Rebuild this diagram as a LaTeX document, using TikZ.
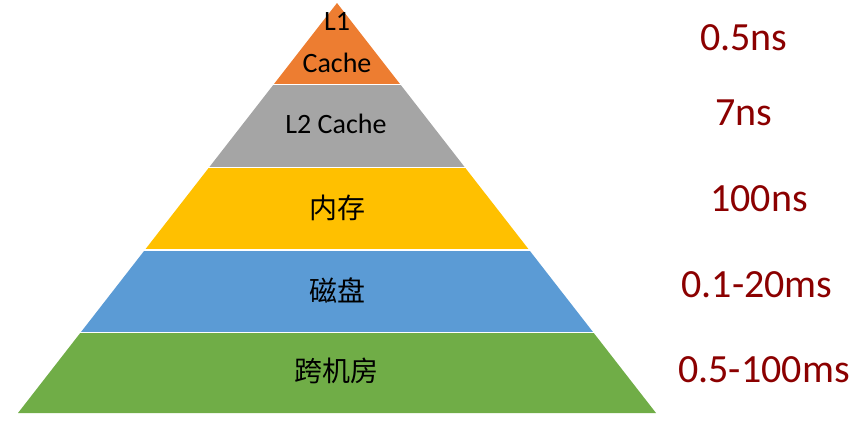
\documentclass[tikz,border=0pt]{standalone}
\usepackage{fontspec}
\setmainfont{Carlito}
\newfontfamily\cjk{Noto Sans CJK SC}
\definecolor{lone}{RGB}{237,125,49}
\definecolor{ltwo}{RGB}{165,165,165}
\definecolor{mem}{RGB}{255,192,0}
\definecolor{disk}{RGB}{91,155,213}
\definecolor{xroom}{RGB}{112,173,71}
\definecolor{lat}{RGB}{139,0,0}
\begin{document}
\begin{tikzpicture}[x=1pt,y=-1pt,
  lvl/.style={font=\fontsize{28}{40}\selectfont, text=black, align=center, inner sep=0pt},
  cjklvl/.style={font=\cjk\fontsize{28}{32}\selectfont, text=black, inner sep=0pt},
  latency/.style={font=\fontsize{40}{44}\selectfont, text=lat, inner sep=0pt}]
\useasboundingbox (0,0) rectangle (862,423);
\coordinate (apex) at (337,3);
\coordinate (bl) at (18,413);
\coordinate (br) at (656,413);
\begin{scope}\clip (0,0) rectangle (862,83);
  \fill[lone] (apex) -- (bl) -- (br) -- cycle;\end{scope}
\begin{scope}\clip (0,85.5) rectangle (862,166);
  \fill[ltwo] (apex) -- (bl) -- (br) -- cycle;\end{scope}
\begin{scope}\clip (0,168.5) rectangle (862,248.5);
  \fill[mem] (apex) -- (bl) -- (br) -- cycle;\end{scope}
\begin{scope}\clip (0,251) rectangle (862,331);
  \fill[disk] (apex) -- (bl) -- (br) -- cycle;\end{scope}
\begin{scope}\clip (0,333.5) rectangle (862,414);
  \fill[xroom] (apex) -- (bl) -- (br) -- cycle;\end{scope}

\node[lvl] (l1a) at (337,21) {L1};
\node[lvl] (l1b) at (337,63) {Cache};
\node[lvl] (l2) at (336,124) {L2 Cache};
\node[cjklvl] (mem) at (337,208) {内存};
\node[cjklvl] (disk) at (337,290) {磁盘};
\node[cjklvl] (xr) at (336,371) {跨机房};

\node[latency] (t1) at (744,38) {0.5ns};
\node[latency] (t2) at (744,113) {7ns};
\node[latency] (t3) at (759,199) {100ns};
\node[latency] (t4) at (757,285) {0.1-20ms};
\node[latency] (t5) at (764,370) {0.5-100ms};
\end{tikzpicture}
\end{document}
